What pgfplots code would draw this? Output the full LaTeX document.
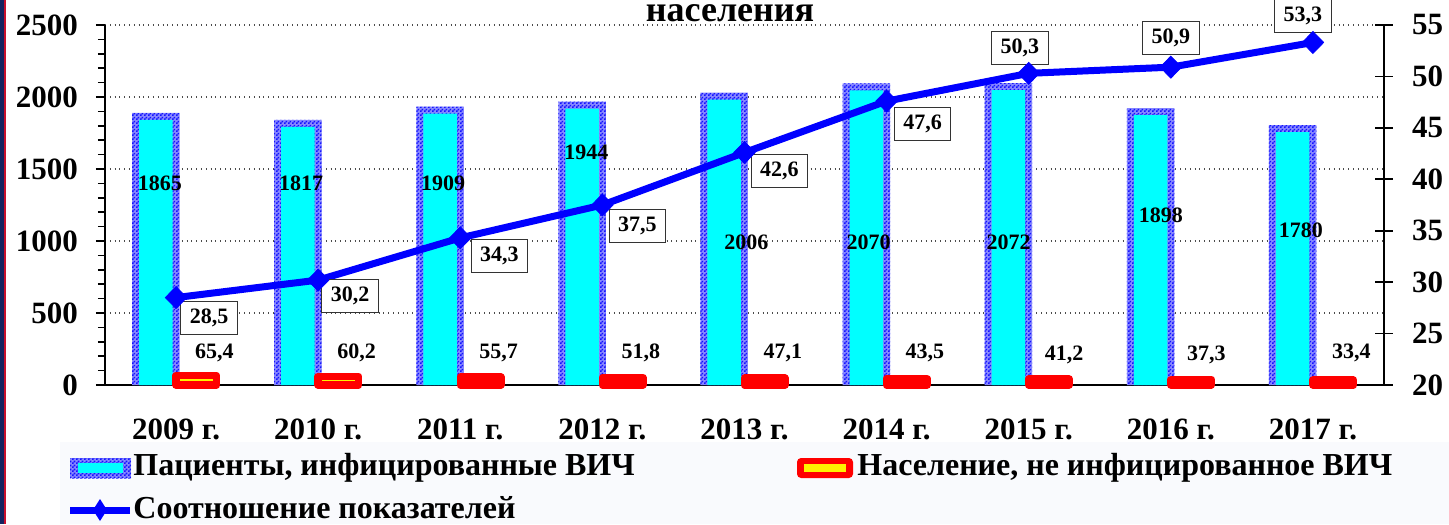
\documentclass[border=0pt]{standalone}
\usepackage{fontspec}
\setmainfont{Liberation Serif}
\usepackage{pgfplots}
\usepackage{pgfplotstable}
\pgfplotsset{compat=1.18}
\usetikzlibrary{patterns}

\definecolor{patblue}{RGB}{20,20,255}
\definecolor{patback}{RGB}{135,135,255}
\definecolor{barcyan}{RGB}{0,255,255}
\definecolor{linblue}{RGB}{0,0,255}
\definecolor{navy}{RGB}{20,36,96}
\definecolor{stripred}{RGB}{200,16,46}
\definecolor{bgl}{RGB}{249,250,253}

% fine checker used for the bar borders
\pgfdeclarepatternformonly{finecheck}{\pgfqpoint{0pt}{0pt}}{\pgfqpoint{2pt}{2pt}}{\pgfqpoint{2pt}{2pt}}{%
  \pgfpathrectangle{\pgfqpoint{0pt}{0pt}}{\pgfqpoint{1pt}{1pt}}%
  \pgfpathrectangle{\pgfqpoint{1pt}{1pt}}{\pgfqpoint{1pt}{1pt}}%
  \pgfusepath{fill}}

\pgfplotstableread{
x hiv pop ratio
0 1865 65.4 28.5
1 1817 60.2 30.2
2 1909 55.7 34.3
3 1944 51.8 37.5
4 2006 47.1 42.6
5 2070 43.5 47.6
6 2072 41.2 50.3
7 1898 37.3 50.9
8 1780 33.4 53.3
}\data

\newcommand{\tickfont}{\fontsize{15.5}{18}\selectfont\bfseries}
\newcommand{\labfont}{\fontsize{11}{13}\selectfont\bfseries}
\newcommand{\legfont}{\fontsize{16}{19}\selectfont\bfseries}

\begin{document}
\begin{tikzpicture}
% pixel frame: (0,0) is the top left corner of the 1449x524 picture
\begin{scope}[shift={(-52.5pt,192.5pt)}, x=0.5pt, y=-0.5pt]
  \fill[bgl] (60,442) rectangle (1449,524);
  \fill[navy] (0,0) rectangle (4,524);
  \fill[stripred] (4,0) rectangle (6.5,524);
\end{scope}

\begin{axis}[
  at={(0,0)}, anchor=south west, scale only axis,
  width=639.5pt, height=180pt,
  xmin=-0.5, xmax=8.5, ymin=0, ymax=2500,
  axis x line*=bottom, axis y line*=left,
  axis line style={black, line width=0.9pt},
  ytick={0,500,...,2500}, minor y tick num=4,
  xtick={0,...,8},
  xticklabels={2009 г.,2010 г.,2011 г.,2012 г.,2013 г.,2014 г.,2015 г.,2016 г.,2017 г.},
  major x tick style={draw=none},
  extra x ticks={-0.5,0.5,...,8.5},
  extra x tick labels={},
  extra x tick style={major tick length=4.5pt, grid=none, tick style={black, line width=0.8pt}},
  tick align=outside,
  major tick length=4.5pt, minor tick length=3.5pt,
  tick style={black, line width=0.8pt},
  ymajorgrids, grid style={black!70, dotted, line width=0.6pt},
  yticklabel style={font=\tickfont, xshift=-5.5pt, /pgf/number format/1000 sep={}},
  xticklabel style={font=\tickfont, yshift=-9pt},
  /pgf/number format/assume math mode=true,
  clip=false,
  ybar,
]
% patterned frame of the HIV bars
\addplot[ybar, bar width=23.75pt, bar shift=-10.125pt, draw=none,
  fill=patback, postaction={pattern=finecheck, pattern color=patblue}]
  table[x=x, y expr=\thisrow{hiv}+24] {\data};
% cyan body
\addplot[ybar, bar width=16.75pt, bar shift=-10.125pt, draw=none, fill=barcyan]
  table[x=x, y expr=\thisrow{hiv}-24] {\data};
% population bars
\addplot[ybar, bar width=20.25pt, bar shift=10.125pt, fill=yellow, draw=red,
  line width=3.75pt, line join=round]
  table[x=x, y=pop] {\data};

\begin{scope}[every node/.style={font=\labfont, inner sep=0pt}]
\node at (axis cs:-0.113,1403) {1865};
\node at (axis cs:0.880,1403) {1817};
\node at (axis cs:1.880,1403) {1909};
\node at (axis cs:2.887,1618) {1944};
\node at (axis cs:4.014,993) {2006};
\node at (axis cs:4.873,993) {2070};
\node at (axis cs:5.859,993) {2072};
\node at (axis cs:6.930,1181) {1898};
\node at (axis cs:7.915,1076) {1780};
\node at (axis cs:0.27,225) {65,4};
\node at (axis cs:1.27,225) {60,2};
\node at (axis cs:2.27,225) {55,7};
\node at (axis cs:3.27,225) {51,8};
\node at (axis cs:4.27,225) {47,1};
\node at (axis cs:5.27,225) {43,5};
\node at (axis cs:6.25,210) {41,2};
\node at (axis cs:7.25,210) {37,3};
\node at (axis cs:8.27,225) {33,4};
\end{scope}
\end{axis}

\begin{axis}[
  at={(0,0)}, anchor=south west, scale only axis,
  width=639.5pt, height=180pt,
  xmin=-0.5, xmax=8.5, ymin=20, ymax=55,
  axis x line=none, axis y line*=right,
  axis line style={black, line width=0.9pt},
  ytick={20,25,...,55},
  tick align=center, major tick length=9pt,
  tick style={black, line width=0.8pt},
  yticklabel style={font=\tickfont, xshift=6pt},
  /pgf/number format/assume math mode=true,
  clip=false,
]
\addplot[linblue, line width=3.5pt, mark=diamond*, mark size=5.5pt,
  mark options={line width=0.4pt, xscale=1.3}]
  table[x=x, y=ratio] {\data};

\begin{scope}[every node/.style={font=\labfont, draw=black!80, line width=0.5pt,
    fill=white, inner xsep=4.5pt, minimum height=16.5pt}]
\node at (axis cs:0.232,26.51) {28,5};
\node at (axis cs:1.225,28.65) {30,2};
\node at (axis cs:2.275,32.54) {34,3};
\node at (axis cs:3.246,35.46) {37,5};
\node at (axis cs:4.246,40.81) {42,6};
\node at (axis cs:5.254,45.37) {47,6};
\node at (axis cs:5.937,52.76) {50,3};
\node at (axis cs:7.000,53.74) {50,9};
\node at (axis cs:7.930,55.87) {53,3};
\end{scope}
\end{axis}

\begin{scope}[shift={(-52.5pt,192.5pt)}, x=0.5pt, y=-0.5pt]
  % title (its upper lines lie above the picture)
  \node[font=\fontsize{18}{20}\selectfont\bfseries, anchor=base] at (730,22) {населения};
  % legend
  \fill[patback] (70,458) rectangle (131,478);
  \fill[pattern=finecheck, pattern color=patblue] (70,458) rectangle (131,478);
  \fill[barcyan] (78,463) rectangle (123,473);
  \node[font=\legfont, anchor=west, inner sep=0pt] at (133,468) {Пациенты, инфицированные ВИЧ};
  \fill[red, rounded corners=2pt] (797,458) rectangle (853,478);
  \fill[yellow] (804,464) rectangle (846,472);
  \node[font=\legfont, anchor=west, inner sep=0pt] at (857,468) {Население, не инфицированное ВИЧ};
  \draw[linblue, line width=3.5pt] (70,510) -- (130,510);
  \fill[linblue] (100,499) -- (107,510) -- (100,521) -- (93,510) -- cycle;
  \node[font=\legfont, anchor=west, inner sep=0pt] at (133,508) {Соотношение показателей};
  \pgfresetboundingbox
  \useasboundingbox (0,0) rectangle (1449,524);
\end{scope}
\end{tikzpicture}
\end{document}
